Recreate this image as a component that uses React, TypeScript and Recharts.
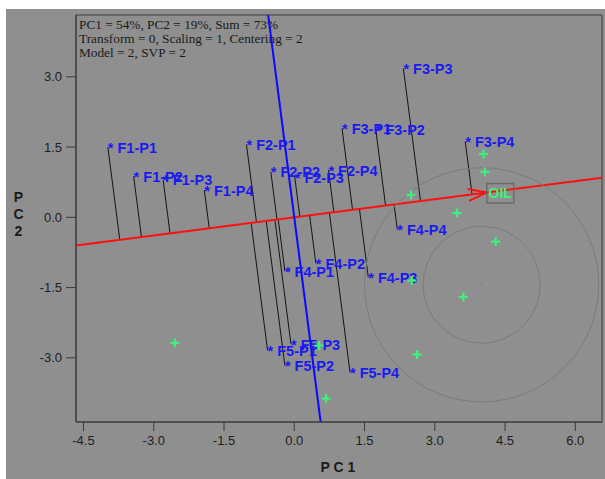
import React from 'react';
import {
  ScatterChart,
  Scatter,
  XAxis,
  YAxis,
  ReferenceLine,
  ReferenceDot,
  ReferenceArea,
  Customized,
} from 'recharts';

// ---------- data ----------
const xTicks = [-4.5, -3.0, -1.5, 0.0, 1.5, 3.0, 4.5, 6.0];
const yTicks = [-3.0, -1.5, 0.0, 1.5, 3.0];
const xDomain: [number, number] = [-4.66, 6.57];
const yDomain: [number, number] = [-4.37, 4.32];

const infoLines = [
  'PC1 = 54%, PC2 = 19%, Sum = 73%',
  'Transform = 0, Scaling = 1, Centering = 2',
  'Model = 2, SVP = 2',
];

const sampleNames = [
  'F1-P1', 'F1-P2', 'F1-P3', 'F1-P4',
  'F2-P1', 'F2-P2', 'F2-P3', 'F2-P4',
  'F3-P1', 'F3-P2', 'F3-P3', 'F3-P4',
  'F4-P1', 'F4-P2', 'F4-P3', 'F4-P4',
  'F5-P1', 'F5-P2', 'F5-P3', 'F5-P4',
];
const sampleX = [
  -3.98, -3.43, -2.8, -1.92,
  -1.02, -0.5, 0.01, 0.73,
  1.02, 1.74, 2.33, 3.65,
  -0.2, 0.46, 1.58, 2.2,
  -0.57, -0.2, -0.07, 1.19,
];
const sampleY = [
  1.5, 0.88, 0.8, 0.58,
  1.55, 0.97, 0.86, 1.01,
  1.9, 1.87, 3.18, 1.62,
  -1.15, -0.98, -1.28, -0.26,
  -2.84, -3.17, -2.71, -3.31,
];

const greenX = [4.04, 4.07, 2.49, 3.47, 4.3, 3.61, 2.62, 2.51, 0.53, 0.68, -2.55];
const greenY = [1.35, 0.97, 0.48, 0.09, -0.52, -1.7, -2.93, -1.35, -2.74, -3.87, -2.68];

const oilLabel = 'OIL';
const oilX = 4.11;
const oilY = 0.53;

const circleCenterX = 4.0;
const circleCenterY = -1.44;
const circleRadii = [1.25, 2.5];

// ---------- layout ----------
const W = 605;
const H = 479;
const M = { top: 15, right: 3, left: 0, bottom: 0 };
const Y_AXIS_W = 76;
const X_AXIS_H = 57;
const plotW = W - M.left - M.right - Y_AXIS_W;
const pxPerUnit = plotW / (xDomain[1] - xDomain[0]);

const samples = sampleNames.map((name, i) => ({ name, x: sampleX[i], y: sampleY[i] }));
const greens = greenX.map((x, i) => ({ x, y: greenY[i] }));

// unit vector of the OIL direction
const oLen = Math.hypot(oilX, oilY);
const ux = oilX / oLen;
const uy = oilY / oLen;
const slope = oilY / oilX;

const feet = samples.map((s) => {
  const d = s.x * ux + s.y * uy;
  return { x: d * ux, y: d * uy };
});

const BLUE_TXT = '#1a1af2';
const GREEN = '#3df27c';
const SANS = "'Liberation Sans', Arial, sans-serif";
const SERIF = "'Liberation Serif', 'Times New Roman', serif";

const SampleMark = (props: any) => {
  const { cx, cy, payload } = props;
  if (cx == null || cy == null) return null;
  return (
    <text
      x={cx}
      y={cy + 5.5}
      fill={BLUE_TXT}
      fontSize={14.5}
      fontWeight="bold"
      fontFamily={SANS}
    >
      {'* ' + payload.name}
    </text>
  );
};

const GreenCross = (props: any) => {
  const { cx, cy } = props;
  if (cx == null || cy == null) return null;
  return (
    <g stroke={GREEN} strokeWidth={2.2}>
      <line x1={cx - 4.5} y1={cy} x2={cx + 4.5} y2={cy} />
      <line x1={cx} y1={cy - 4.5} x2={cx} y2={cy + 4.5} />
    </g>
  );
};

const OilMark = (props: any) => {
  const { cx, cy } = props;
  if (cx == null || cy == null) return null;
  const back = Math.atan2(slope, -1);
  const a = (18 * Math.PI) / 180;
  const len = 19.5;
  const p1 = [cx + len * Math.cos(back + a), cy + len * Math.sin(back + a)];
  const p2 = [cx + len * Math.cos(back - a), cy + len * Math.sin(back - a)];
  return (
    <g>
      <polyline
        points={`${p1[0]},${p1[1]} ${cx},${cy} ${p2[0]},${p2[1]}`}
        fill="none"
        stroke="#ff1010"
        strokeWidth={2}
      />
      <rect x={cx} y={cy - 9} width={27} height={19.5} fill="none" stroke="#6c6c6c" strokeWidth={1.5} />
      <text
        x={cx + 13.5}
        y={cy + 5.5}
        textAnchor="middle"
        fill={GREEN}
        fontSize={14}
        fontWeight="bold"
        fontFamily={SANS}
      >
        {oilLabel}
      </text>
    </g>
  );
};

const InfoText = () => (
  <g fill="#1a1a1a" fontSize={13.3} fontFamily={SERIF}>
    {infoLines.map((t, i) => (
      <text key={i} x={79} y={28.5 + i * 14.3}>
        {t}
      </text>
    ))}
  </g>
);

const YLabel = () => (
  <g fill="#1a1a1a" fontSize={14} fontWeight="bold" fontFamily={SANS} textAnchor="middle">
    {['P', 'C', '2'].map((c, i) => (
      <text key={i} x={18.5} y={202 + i * 17}>
        {c}
      </text>
    ))}
  </g>
);

const XLabel = () => (
  <text
    x={338}
    y={472}
    textAnchor="middle"
    fill="#1a1a1a"
    fontSize={14}
    fontWeight="bold"
    fontFamily={SANS}
  >
    P C 1
  </text>
);

export default function App() {
  return (
    <div style={{ position: 'fixed', left: 0, top: 0, width: W, height: H, background: '#ffffff' }}>
      <div
        style={{
          position: 'absolute',
          left: 6,
          top: 9,
          width: W - 6,
          height: H - 9,
          background: '#8f8f8f',
        }}
      />
      <div style={{ position: 'absolute', left: 0, top: 0 }}>
        <ScatterChart width={W} height={H} margin={M}>
          <XAxis
            type="number"
            dataKey="x"
            domain={xDomain}
            allowDataOverflow
            ticks={xTicks}
            interval={0}
            tickFormatter={(v: number) => v.toFixed(1)}
            height={X_AXIS_H}
            tickSize={9}
            tickMargin={5}
            axisLine={{ stroke: '#3a3a3a' }}
            tickLine={{ stroke: '#3a3a3a' }}
            tick={{ fill: '#1e1e1e', fontSize: 13, fontFamily: SANS }}
          />
          <YAxis
            type="number"
            dataKey="y"
            domain={yDomain}
            allowDataOverflow
            ticks={yTicks}
            interval={0}
            tickFormatter={(v: number) => v.toFixed(1)}
            width={Y_AXIS_W}
            tickSize={10}
            tickMargin={4}
            axisLine={{ stroke: '#3a3a3a' }}
            tickLine={{ stroke: '#3a3a3a' }}
            tick={{ fill: '#1e1e1e', fontSize: 13, fontFamily: SANS }}
          />
          <ReferenceArea
            x1={xDomain[0]}
            x2={xDomain[1]}
            y1={yDomain[0]}
            y2={yDomain[1]}
            fill="none"
            fillOpacity={0}
            stroke="#3a3a3a"
            strokeWidth={1}
          />
          {circleRadii.map((r, i) => (
            <ReferenceDot
              key={'c' + i}
              x={circleCenterX}
              y={circleCenterY}
              r={r * pxPerUnit}
              fill="none"
              stroke="#7b7b7b"
              strokeWidth={1}
            />
          ))}
          <ReferenceDot x={circleCenterX} y={circleCenterY} r={0.8} fill="#777" stroke="none" />
          {samples.map((s, i) => (
            <ReferenceLine
              key={'p' + i}
              segment={[
                { x: s.x, y: s.y },
                { x: feet[i].x, y: feet[i].y },
              ]}
              stroke="#141414"
              strokeWidth={1}
            />
          ))}
          <ReferenceLine
            segment={[
              { x: xDomain[0], y: xDomain[0] * slope },
              { x: xDomain[1], y: xDomain[1] * slope },
            ]}
            stroke="#ff1010"
            strokeWidth={2}
          />
          <ReferenceLine
            segment={[
              { x: -yDomain[1] * slope, y: yDomain[1] },
              { x: -yDomain[0] * slope, y: yDomain[0] },
            ]}
            stroke="#0a0aff"
            strokeWidth={2}
          />
          <Scatter data={samples} shape={<SampleMark />} isAnimationActive={false} />
          <Scatter data={greens} shape={<GreenCross />} isAnimationActive={false} />
          <ReferenceDot x={oilX} y={oilY} r={1} shape={<OilMark />} />
          <Customized component={<InfoText />} />
          <Customized component={<YLabel />} />
          <Customized component={<XLabel />} />
        </ScatterChart>
      </div>
    </div>
  );
}
